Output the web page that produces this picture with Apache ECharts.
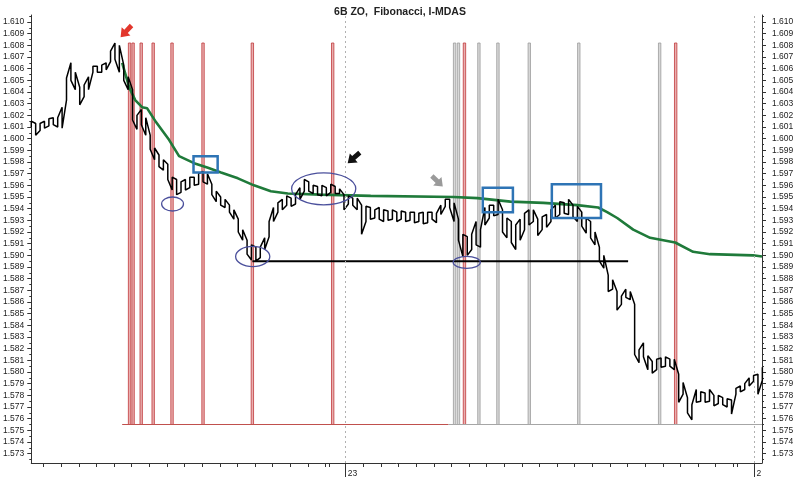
<!DOCTYPE html>
<html><head><meta charset="utf-8">
<script src="https://cdn.jsdelivr.net/npm/echarts@6.0.0/dist/echarts.min.js"></script>
<style>html,body{margin:0;padding:0;background:#fff}#c{width:800px;height:478px}</style>
</head><body><div id="c"></div>
<script>
// time in hours relative to the start of day "23"; one bar every 15 minutes
const xStart = -17.85, xStep = 0.25;
const priceHigh = [
1.6015,1.6013,1.6013,1.6015,1.6017,1.6018,1.6018,1.6027,1.6052,1.6065,
1.6057,1.6044,1.6046,1.6053,1.6062,1.6062,1.6063,1.6065,1.6075,1.6082,
1.6080,1.6063,1.6053,1.6042,1.6020,1.6025,1.6018,1.6003,1.5992,1.5986,
1.5982,1.5978,1.5967,1.5965,1.5963,1.5965,1.5967,1.5967,1.5970,1.5972,
1.5970,1.5961,1.5955,1.5950,1.5948,1.5943,1.5939,1.5931,1.5922,1.5913,
1.5909,1.5907,1.5907,1.5915,1.5929,1.5941,1.5945,1.5948,1.5951,1.5949,
1.5952,1.5958,1.5965,1.5963,1.5960,1.5959,1.5960,1.5958,1.5961,1.5959,
1.5957,1.5952,1.5951,1.5949,1.5949,1.5943,1.5942,1.5941,1.5939,1.5941,
1.5939,1.5938,1.5939,1.5937,1.5938,1.5937,1.5937,1.5937,1.5936,1.5937,
1.5937,1.5937,1.5936,1.5943,1.5948,1.5948,1.5945,1.5931,1.5918,1.5916,
1.5918,1.5929,1.5922,1.5941,1.5943,1.5943,1.5948,1.5939,1.5932,1.5929,
1.5926,1.5931,1.5936,1.5939,1.5939,1.5931,1.5933,1.5935,1.5939,1.5943,
1.5946,1.5945,1.5948,1.5943,1.5942,1.5937,1.5932,1.5929,1.5920,1.5907,
1.5900,1.5883,1.5879,1.5869,1.5865,1.5871,1.5869,1.5858,1.5819,1.5825,
1.5814,1.5809,1.5811,1.5812,1.5813,1.5811,1.5811,1.5798,1.5791,1.5778,
1.5772,1.5785,1.5783,1.5782,1.5785,1.5780,1.5780,1.5778,1.5777,1.5776,
1.5786,1.5788,1.5790,1.5795,1.5797,1.5798,1.5804];
const priceLow = [
1.6010,1.6003,1.6007,1.6009,1.6011,1.6012,1.6010,1.6009,1.6033,1.6050,
1.6042,1.6029,1.6036,1.6042,1.6057,1.6057,1.6057,1.6059,1.6066,1.6068,
1.6057,1.6050,1.6042,1.6016,1.6008,1.6012,1.6003,1.5991,1.5982,1.5976,
1.5973,1.5965,1.5956,1.5952,1.5954,1.5956,1.5958,1.5960,1.5961,1.5963,
1.5961,1.5952,1.5946,1.5943,1.5941,1.5937,1.5931,1.5920,1.5913,1.5901,
1.5896,1.5895,1.5898,1.5905,1.5916,1.5929,1.5937,1.5939,1.5943,1.5942,
1.5944,1.5948,1.5955,1.5955,1.5953,1.5952,1.5951,1.5951,1.5954,1.5953,
1.5953,1.5939,1.5944,1.5943,1.5939,1.5918,1.5929,1.5931,1.5932,1.5931,
1.5929,1.5930,1.5931,1.5929,1.5931,1.5929,1.5930,1.5928,1.5929,1.5927,
1.5928,1.5931,1.5928,1.5935,1.5942,1.5941,1.5929,1.5913,1.5899,1.5900,
1.5905,1.5909,1.5907,1.5926,1.5932,1.5934,1.5935,1.5920,1.5915,1.5911,
1.5905,1.5913,1.5922,1.5926,1.5929,1.5917,1.5922,1.5924,1.5929,1.5932,
1.5935,1.5936,1.5935,1.5933,1.5929,1.5925,1.5919,1.5915,1.5909,1.5895,
1.5889,1.5869,1.5871,1.5853,1.5858,1.5864,1.5862,1.5815,1.5808,1.5813,
1.5802,1.5799,1.5802,1.5804,1.5805,1.5805,1.5802,1.5774,1.5781,1.5765,
1.5759,1.5774,1.5775,1.5774,1.5775,1.5771,1.5773,1.5772,1.5770,1.5764,
1.5781,1.5783,1.5785,1.5788,1.5792,1.5781,1.5793];

const maHours = [-12.69,-12.29,-11.95,-11.56,-11.27,-10.76,-10.03,-9.46,-8.61,-7.82,-7.08,-6.12,-5.21,-4.25,-3.29,-1.42,1.42,6.12,7.48,9.35,11.22,13.14,14.33,14.84,15.41,16.32,17.28,18.70,19.72,20.68,23.12,23.63];
const maValues = [1.6065,1.6044,1.6033,1.6027,1.6026,1.6014,1.5999,1.5985,1.5979,1.5975,1.5971,1.5966,1.5960,1.5955,1.5953,1.5952,1.5951,1.5950,1.5949,1.5946,1.5945,1.5943,1.5941,1.5937,1.5932,1.5922,1.5915,1.5911,1.5903,1.5901,1.5900,1.5899];

const yLabels = [1.573,1.574,1.575,1.576,1.577,1.578,1.579,1.580,1.581,1.582,1.583,1.584,1.585,1.586,1.587,1.588,1.589,1.590,1.591,1.592,1.593,1.594,1.595,1.596,1.597,1.598,1.599,1.600,1.601,1.602,1.603,1.604,1.605,1.606,1.607,1.608,1.609,1.610];
const xTicks = [-17.15,-16.15,-15.15,-14.15,-13.15,-12.15,-11.15,-10.15,-9.15,-8.15,-7.15,-6.15,-5.15,-4.15,-3.15,-2.15,-1.15,-0.95,1,2,3,4,5,6,7,8,9,10,11,12,13,14,15,16,17,18,19,20,21,22,22.23];
const dayTicks = [0, 23.2];
const dayLabels = ['23', '2'];

const redSpikes = [-12.27,-12.07,-11.61,-10.93,-9.86,-8.10,-5.30,-0.74,6.74,18.73];
const graySpikes = [6.18,6.40,7.56,8.64,10.42,13.23,17.82];
const spikeTop = 1.6082, spikeBase = 1.5755;
const redBase = [-12.69, 5.84];
const grayBase = [5.84, 23.63];
const supportHours = [-5.3, 16.03];
const supportLevel = 1.5895;

const boxes = [[-8.64,1.5985,-7.27,1.5971],[7.78,1.5958,9.49,1.5937],[11.70,1.5961,14.49,1.5932]];
const ellipses = [[-9.83,1.5944,0.62,0.0006],[-5.28,1.5899,0.97,0.00086],[-1.25,1.5957,1.82,0.00137],[6.87,1.5894,0.77,0.00051]];
const arrows = [[-12.16,1.6097,-12.78,1.6087,'#e2362c'],[0.80,1.5988,0.11,1.5979,'#111111'],[4.89,1.5968,5.51,1.5959,'#9a9a9a']];

const yMin = 1.5722, yMax = 1.6106, xMin = -17.85, xMax = 23.63;

const pricePath = [];
priceHigh.forEach((h, i) => {
  const t = xStart + i * xStep;
  if (i % 2 === 0) { pricePath.push([t, priceLow[i]]); pricePath.push([t, h]); }
  else { pricePath.push([t, h]); pricePath.push([t, priceLow[i]]); }
});
const yMinor = [1.5725].concat(yLabels.map(v => +(v + 0.0005).toFixed(4))).filter(v => v < yMax);

const font = 'Liberation Sans, Arial, sans-serif';
const axisCol = '#333';
function yAx(pos, minor) {
  return {
    type: 'value', min: yMin, max: yMax, position: pos,
    axisLine: { show: !minor, onZero: false, lineStyle: { color: axisCol, width: 1 } },
    axisTick: { show: true, length: minor ? 2 : 4, customValues: minor ? yMinor : yLabels, lineStyle: { color: axisCol } },
    axisLabel: minor ? { show: false } : { customValues: yLabels, formatter: v => v.toFixed(3), fontSize: 8.5, color: '#222', fontFamily: font, margin: pos === 'left' ? 7 : 10 },
    splitLine: { show: false }
  };
}
function spikeRender(fill, stroke) {
  return (p, api) => {
    const t = api.coord([api.value(0), spikeTop]), b = api.coord([api.value(0), spikeBase]);
    return { type: 'rect', shape: { x: t[0] - 1.2, y: t[1], width: 2.4, height: b[1] - t[1] }, style: { fill: fill, stroke: stroke, lineWidth: 0.8 } };
  };
}

const chart = echarts.init(document.getElementById('c'), null, { renderer: 'canvas' });
chart.setOption({
  animation: false,
  backgroundColor: '#fff',
  title: { text: '6B ZO,  Fibonacci, I-MDAS', left: 'center', top: 2, textStyle: { fontSize: 10.5, fontWeight: 'bold', color: '#222', fontFamily: font } },
  grid: { left: 30, right: 38, top: 15, bottom: 15 },
  xAxis: [
    { type: 'value', min: xMin, max: xMax, position: 'bottom',
      axisLine: { show: true, onZero: false, lineStyle: { color: axisCol } },
      axisTick: { customValues: xTicks, length: 4, lineStyle: { color: axisCol } },
      axisLabel: { show: false }, splitLine: { show: false } },
    { type: 'value', min: xMin, max: xMax, position: 'bottom',
      axisLine: { show: false, onZero: false },
      axisTick: { customValues: dayTicks, length: 14, lineStyle: { color: axisCol } },
      axisLabel: { customValues: dayTicks, formatter: v => (Math.abs(v) < 1 ? dayLabels[0] : dayLabels[1]), align: 'left', margin: 6, padding: [0, 0, 0, 2], fontSize: 8.5, color: '#222', fontFamily: font },
      splitLine: { show: false } }
  ],
  yAxis: [yAx('left', false), yAx('right', false), yAx('left', true), yAx('right', true)],
  series: [
    { type: 'custom', z: 1, data: redSpikes.map(h => [h, spikeTop]), renderItem: spikeRender('rgba(215,110,110,0.55)', '#c0393b') },
    { type: 'custom', z: 1, data: graySpikes.map(h => [h, spikeTop]), renderItem: spikeRender('rgba(190,190,190,0.6)', '#9c9c9c') },
    { type: 'line', z: 1, showSymbol: false, data: redBase.map(h => [h, spikeBase]), lineStyle: { color: '#c0504d', width: 1 } },
    { type: 'line', z: 1, showSymbol: false, data: grayBase.map(h => [h, spikeBase]), lineStyle: { color: '#a6a6a6', width: 1 } },
    { type: 'line', z: 3, showSymbol: false, data: maHours.map((h, i) => [h, maValues[i]]), lineStyle: { color: '#1f7a3a', width: 2.6 } },
    { type: 'line', z: 4, showSymbol: false, data: pricePath, lineStyle: { color: '#000', width: 1.5 },
      markLine: { silent: true, symbol: 'none', label: { show: false }, lineStyle: { color: '#b0b0b0', type: [2, 3], width: 1 },
        data: dayTicks.map(d => ({ xAxis: d })) } },
    { type: 'line', z: 4, showSymbol: false, data: supportHours.map(h => [h, supportLevel]), lineStyle: { color: '#000', width: 2 } },
    { type: 'custom', z: 6, data: boxes,
      renderItem: (p, api) => {
        const a = api.coord([api.value(0), api.value(1)]), b = api.coord([api.value(2), api.value(3)]);
        return { type: 'rect', shape: { x: a[0], y: a[1], width: b[0] - a[0], height: b[1] - a[1] }, style: { fill: 'none', stroke: '#2e74b5', lineWidth: 2.5 } };
      } },
    { type: 'custom', z: 6, data: ellipses,
      renderItem: (p, api) => {
        const c = api.coord([api.value(0), api.value(1)]);
        const e = api.coord([api.value(0) + api.value(2), api.value(1) + api.value(3)]);
        return { type: 'ellipse', shape: { cx: c[0], cy: c[1], rx: Math.abs(e[0] - c[0]), ry: Math.abs(e[1] - c[1]) }, style: { fill: 'none', stroke: '#4b509c', lineWidth: 1.3 } };
      } },
    { type: 'custom', z: 7, data: arrows,
      renderItem: (p, api) => {
        const t = api.coord([api.value(0), api.value(1)]), h = api.coord([api.value(2), api.value(3)]);
        const dx = h[0] - t[0], dy = h[1] - t[1], L = Math.hypot(dx, dy);
        const ux = dx / L, uy = dy / L, nx = -uy, ny = ux;
        const nk = [h[0] - ux * L * 0.5, h[1] - uy * L * 0.5];
        const sw = 2.4, hw = 6;
        const pts = [
          [t[0] + nx * sw, t[1] + ny * sw], [nk[0] + nx * sw, nk[1] + ny * sw], [nk[0] + nx * hw, nk[1] + ny * hw],
          [h[0], h[1]], [nk[0] - nx * hw, nk[1] - ny * hw], [nk[0] - nx * sw, nk[1] - ny * sw], [t[0] - nx * sw, t[1] - ny * sw]];
        return { type: 'polygon', shape: { points: pts }, style: { fill: arrows[p.dataIndex][4] } };
      } }
  ]
});
</script></body></html>
